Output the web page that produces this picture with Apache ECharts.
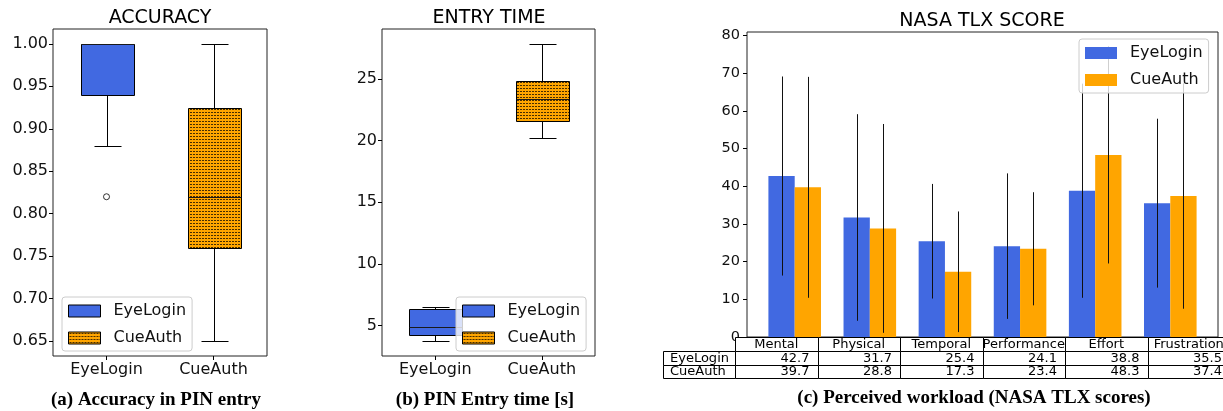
<!DOCTYPE html>
<html><head><meta charset="utf-8">
<script src="https://cdn.jsdelivr.net/npm/echarts@6/dist/echarts.min.js"></script>
<style>html,body{margin:0;padding:0;background:#fff}#c{width:1223px;height:411px}</style>
</head><body><div id="c"></div>
<script>
// ---------- data ----------
const groups = ['EyeLogin', 'CueAuth'];
// box stats: [whisker low, Q1, median, Q3, whisker high]
const accuracyEyeLogin = [0.88, 0.94, 1.00, 1.00, 1.00];
const accuracyCueAuth = [0.65, 0.76, 0.82, 0.925, 1.00];
const accuracyOutliers = [[0, 0.82]];
const timeEyeLogin = [3.74, 4.25, 4.87, 6.35, 6.51];
const timeCueAuth = [20.17, 21.62, 23.40, 24.82, 27.84];
const tlxCategories = ['Mental', 'Physical', 'Temporal', 'Performance', 'Effort', 'Frustration'];
const tlxEyeLogin = [42.7, 31.7, 25.4, 24.1, 38.8, 35.5];
const tlxCueAuth = [39.7, 28.8, 17.3, 23.4, 48.3, 37.4];
const tlxEyeLoginErr = [26.4, 27.4, 15.2, 19.3, 28.4, 22.4];
const tlxCueAuthErr = [29.3, 27.7, 16.0, 15.0, 28.8, 29.9];
const accuracyTicks = [0.65, 0.70, 0.75, 0.80, 0.85, 0.90, 0.95, 1.00];
const timeTicks = [5, 10, 15, 20, 25];
const tlxTicks = [0, 10, 20, 30, 40, 50, 60, 70, 80];
const titles = ['ACCURACY', 'ENTRY TIME', 'NASA TLX SCORE'];
const captions = ['(a) Accuracy in PIN entry', '(b) PIN Entry time [s]', '(c) Perceived workload (NASA TLX scores)'];

// ---------- style ----------
const BLUE = '#4169E1', ORANGE = '#FFA500';
const FONT = '"DejaVu Sans", sans-serif';
function makeDots() {
  const c = document.createElement('canvas'); c.width = 3; c.height = 3;
  const g = c.getContext('2d');
  g.fillStyle = ORANGE; g.fillRect(0, 0, 3, 3);
  g.fillStyle = 'rgba(40,25,0,0.85)'; g.fillRect(1, 1, 2, 1);
  return c;
}
const DOTS = { image: makeDots(), repeat: 'repeat' };
const px = v => Math.round(v) + 0.5;

function boxRenderer(fill) {
  return function (params, api) {
    const cat = api.value(0);
    const bw = api.size([1, 0])[0] * 0.5;
    const p = [1, 2, 3, 4, 5].map(i => api.coord([cat, api.value(i)]));
    const cx = px(p[0][0]);
    const x0 = px(cx - bw / 2), x1 = px(cx + bw / 2);
    const ls = { stroke: '#000', lineWidth: 1 };
    const y = p.map(q => px(q[1]));
    return { type: 'group', children: [
      { type: 'line', shape: { x1: cx, y1: y[0], x2: cx, y2: y[1] }, style: ls },
      { type: 'line', shape: { x1: cx, y1: y[3], x2: cx, y2: y[4] }, style: ls },
      { type: 'line', shape: { x1: px(cx - bw / 4), y1: y[0], x2: px(cx + bw / 4), y2: y[0] }, style: ls },
      { type: 'line', shape: { x1: px(cx - bw / 4), y1: y[4], x2: px(cx + bw / 4), y2: y[4] }, style: ls },
      { type: 'rect', shape: { x: x0, y: y[3], width: x1 - x0, height: y[1] - y[3] }, style: { fill: fill, stroke: '#000', lineWidth: 1 } },
      { type: 'line', shape: { x1: x0, y1: y[2], x2: x1, y2: y[2] }, style: { stroke: '#1a1a1a', lineWidth: 1 } }
    ] };
  };
}
function barRenderer(offset, color) {
  return function (params, api) {
    const i = api.value(0), v = api.value(1), e = api.value(2);
    const a = api.coord([i + offset - 0.175, v]);
    const b = api.coord([i + offset + 0.175, 0]);
    const t = api.coord([i + offset, v + e]);
    const d = api.coord([i + offset, v - e]);
    const cx = px(t[0]);
    return { type: 'group', children: [
      { type: 'rect', shape: { x: a[0], y: a[1], width: b[0] - a[0], height: b[1] - a[1] }, style: { fill: color } },
      { type: 'line', z2: 10, shape: { x1: cx, y1: t[1], x2: cx, y2: d[1] }, style: { stroke: '#111', lineWidth: 1 } }
    ] };
  };
}

const frame = { show: true, borderColor: '#222', borderWidth: 1, backgroundColor: 'transparent' };
const grids = [
  Object.assign({ left: 53, top: 29, width: 214, height: 327 }, frame),
  Object.assign({ left: 382, top: 29, width: 213, height: 327 }, frame),
  Object.assign({ left: 747, top: 32, width: 471, height: 305 }, frame)
];
function catAxis(idx) {
  return { type: 'category', gridIndex: idx, data: groups, boundaryGap: true,
    axisLine: { show: false, onZero: false },
    axisTick: { show: true, alignWithLabel: true, length: 4, lineStyle: { color: '#000' } },
    axisLabel: { fontSize: 16, fontFamily: FONT, color: '#111', margin: 6 },
    splitLine: { show: false } };
}
function valAxis(idx, min, max, ticks, fmt, fs, margin) {
  return { type: 'value', gridIndex: idx, min: min, max: max,
    axisLine: { show: false, onZero: false },
    axisTick: { show: true, length: 4, customValues: ticks, lineStyle: { color: '#000' } },
    axisLabel: { fontSize: fs, fontFamily: FONT, color: '#111', margin: margin, customValues: ticks, formatter: fmt },
    splitLine: { show: false } };
}
function legendFor(left, top, cueFill, border) {
  const bs = border ? { borderColor: '#000', borderWidth: 1 } : { borderWidth: 0 };
  return { left: left, top: top, orient: 'vertical', selectedMode: false,
    backgroundColor: 'rgba(255,255,255,0.8)', borderColor: '#ccc', borderWidth: 1, borderRadius: 3,
    padding: [6, 6, 5, 6], itemGap: 11, itemWidth: 32, itemHeight: 12, icon: 'rect',
    textStyle: { fontSize: 16, fontFamily: FONT, color: '#111', padding: [0, 0, 0, 8] },
    data: [
      { name: groups[0], itemStyle: Object.assign({ color: BLUE }, bs) },
      { name: groups[1], itemStyle: Object.assign({ color: cueFill }, bs) }
    ] };
}

// ---------- table + texts ----------
const graphics = [];
const txt = (x, y, text, font, align, extra) => Object.assign({ type: 'text', x: x, y: y, z: 100,
  style: { text: text, font: font, fill: '#000', align: align || 'center', verticalAlign: 'middle' } }, extra || {});
graphics.push(txt(160, 18, titles[0], '19px ' + FONT));
graphics.push(txt(489, 18, titles[1], '19px ' + FONT));
graphics.push(txt(982, 21, titles[2], '19px ' + FONT));
const capFont = 'bold 19px "Liberation Serif", "DejaVu Serif", serif';
graphics.push(txt(156, 400, captions[0], capFont));
graphics.push(txt(485, 400, captions[1], capFont));
graphics.push(txt(974, 398, captions[2], capFont));

const T = { left: 663, labelW: 72, colW: 82.5, rows: [337, 351, 365, 378] };
const tFont = '13px ' + FONT;
const cell = (x, y, w, h) => ({ type: 'rect', z: 100, shape: { x: px(x), y: px(y), width: Math.round(w), height: Math.round(h) },
  style: { fill: '#fff', stroke: '#000', lineWidth: 1 } });
const colX0 = T.left + T.labelW;
tlxCategories.forEach((name, j) => {
  const x = colX0 + j * T.colW;
  graphics.push(cell(x, T.rows[0], T.colW, T.rows[1] - T.rows[0]));
  graphics.push(txt(x + T.colW / 2, (T.rows[0] + T.rows[1]) / 2 + 0.5, name, tFont, 'center', { z: 101 }));
  [tlxEyeLogin, tlxCueAuth].forEach((arr, r) => {
    const y0 = T.rows[r + 1], y1 = T.rows[r + 2];
    graphics.push(cell(x, y0, T.colW, y1 - y0));
    graphics.push(txt(x + T.colW - 8, (y0 + y1) / 2 + 0.5, arr[j].toFixed(1), tFont, 'right', { z: 101 }));
  });
});
groups.forEach((g, r) => {
  const y0 = T.rows[r + 1], y1 = T.rows[r + 2];
  graphics.push(cell(T.left, y0, T.labelW, y1 - y0));
  graphics.push(txt(T.left + 7, (y0 + y1) / 2 + 0.5, g, tFont, 'left', { z: 101 }));
});

// ---------- chart ----------
const chart = echarts.init(document.getElementById('c'), null, { renderer: 'canvas' });
chart.setOption({
  animation: false,
  backgroundColor: '#fff',
  grid: grids,
  xAxis: [
    catAxis(0), catAxis(1),
    { type: 'value', gridIndex: 2, min: -0.46, max: 5.81, axisLine: { show: false, onZero: false }, axisTick: { show: false }, axisLabel: { show: false }, splitLine: { show: false } }
  ],
  yAxis: [
    valAxis(0, 0.6325, 1.0175, accuracyTicks, v => v.toFixed(2), 16, 5),
    valAxis(1, 2.535, 29.045, timeTicks, v => String(Math.round(v)), 16, 5),
    valAxis(2, 0, 80.9, tlxTicks, v => String(Math.round(v)), 14.5, 7)
  ],
  legend: [
    legendFor(62, 297, DOTS, true),
    legendFor(456, 297, DOTS, true),
    legendFor(1079, 39, ORANGE, false)
  ],
  series: [
    { name: groups[0], type: 'custom', xAxisIndex: 0, yAxisIndex: 0, itemStyle: { color: BLUE },
      encode: { x: 0, y: [1, 2, 3, 4, 5] }, renderItem: boxRenderer(BLUE), data: [[0].concat(accuracyEyeLogin)] },
    { name: groups[1], type: 'custom', xAxisIndex: 0, yAxisIndex: 0, itemStyle: { color: ORANGE },
      encode: { x: 0, y: [1, 2, 3, 4, 5] }, renderItem: boxRenderer(DOTS), data: [[1].concat(accuracyCueAuth)] },
    { name: 'outliers', type: 'scatter', xAxisIndex: 0, yAxisIndex: 0, symbol: 'circle', symbolSize: 6,
      itemStyle: { color: '#fff', borderColor: '#000', borderWidth: 1 }, data: accuracyOutliers },
    { name: groups[0], type: 'custom', xAxisIndex: 1, yAxisIndex: 1, itemStyle: { color: BLUE },
      encode: { x: 0, y: [1, 2, 3, 4, 5] }, renderItem: boxRenderer(BLUE), data: [[0].concat(timeEyeLogin)] },
    { name: groups[1], type: 'custom', xAxisIndex: 1, yAxisIndex: 1, itemStyle: { color: ORANGE },
      encode: { x: 0, y: [1, 2, 3, 4, 5] }, renderItem: boxRenderer(DOTS), data: [[1].concat(timeCueAuth)] },
    { name: groups[0], type: 'custom', xAxisIndex: 2, yAxisIndex: 2, itemStyle: { color: BLUE },
      encode: { x: 0, y: 1 }, renderItem: barRenderer(0, BLUE),
      data: tlxCategories.map((c, i) => [i, tlxEyeLogin[i], tlxEyeLoginErr[i]]) },
    { name: groups[1], type: 'custom', xAxisIndex: 2, yAxisIndex: 2, itemStyle: { color: ORANGE },
      encode: { x: 0, y: 1 }, renderItem: barRenderer(0.35, ORANGE),
      data: tlxCategories.map((c, i) => [i, tlxCueAuth[i], tlxCueAuthErr[i]]) }
  ],
  graphic: { elements: graphics }
});
</script>
</body></html>
